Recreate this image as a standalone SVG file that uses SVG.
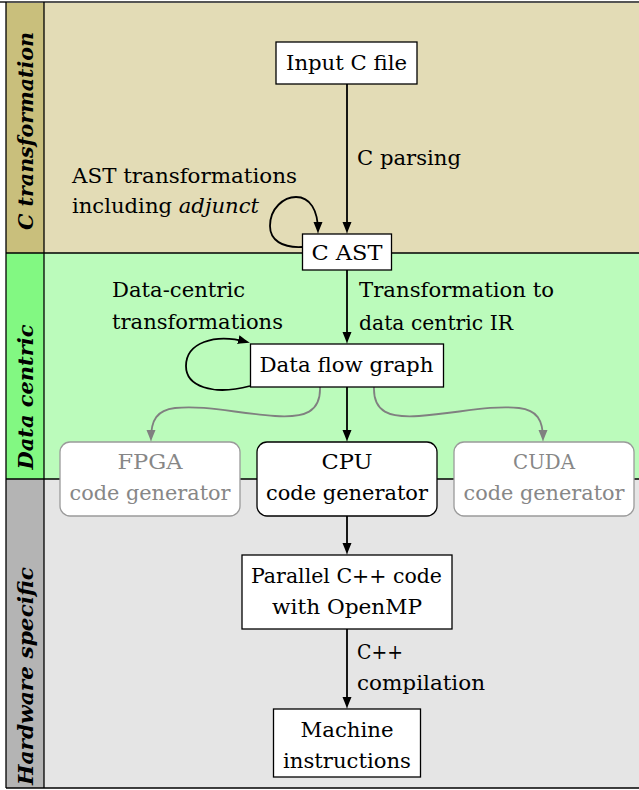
<svg xmlns="http://www.w3.org/2000/svg" width="639" height="790" viewBox="0 0 639 790">
<style>
.t{font-family:"DejaVu Serif","Liberation Serif",serif;font-size:20.5px;fill:#000}
.m{text-anchor:middle}
.g{fill:#878787}
.lab{font-weight:bold;font-style:italic;text-anchor:middle}
.box{fill:#fff;stroke:#000;stroke-width:1.3}
.rbox{fill:#fff;stroke:#000;stroke-width:1.3}
.gbox{fill:#fff;stroke:#9a9a9a;stroke-width:1.3}
.e{fill:none;stroke:#000;stroke-width:1.8}
.ge{fill:none;stroke:#808080;stroke-width:1.8}
</style>
<defs>
<marker id="ab" viewBox="0 0 12 10" refX="9" refY="5" markerWidth="12" markerHeight="10" markerUnits="userSpaceOnUse" orient="auto">
<path d="M12,5 C8,4 4,2 0,0.5 L0,9.5 C4,8 8,6 12,5 Z" fill="#000"/>
</marker>
<marker id="ag" viewBox="0 0 12 10" refX="9" refY="5" markerWidth="12" markerHeight="10" markerUnits="userSpaceOnUse" orient="auto">
<path d="M12,5 C8,4 4,2 0,0.5 L0,9.5 C4,8 8,6 12,5 Z" fill="#808080"/>
</marker>
</defs>
<g id="bands">
<rect x="6" y="2.5" width="640" height="250.5" fill="#e3dcb6"/>
<rect x="6" y="253" width="640" height="226" fill="#bbfbbb"/>
<rect x="6" y="479" width="640" height="309" fill="#e5e5e5"/>
<rect x="6" y="2.5" width="38" height="250.5" fill="#c9bf7c"/>
<rect x="6" y="253" width="38" height="226" fill="#82f882"/>
<rect x="6" y="479" width="38" height="309" fill="#b4b4b4"/>
<line x1="0" y1="2" x2="639" y2="2" stroke="#555" stroke-width="2"/>
<line x1="6" y1="253" x2="639" y2="253" stroke="#000" stroke-width="1.3"/>
<line x1="6" y1="479" x2="639" y2="479" stroke="#000" stroke-width="1.3"/>
<line x1="6" y1="788" x2="639" y2="788" stroke="#000" stroke-width="1.5"/>
<line x1="6" y1="2" x2="6" y2="788" stroke="#000" stroke-width="1.3"/>
<line x1="44" y1="2" x2="44" y2="788" stroke="#000" stroke-width="1.3"/>
<text class="t lab" transform="translate(33,131) rotate(-90)" textLength="198" lengthAdjust="spacingAndGlyphs">C transformation</text>
<text class="t lab" transform="translate(33,397) rotate(-90)" textLength="145" lengthAdjust="spacingAndGlyphs">Data centric</text>
<text class="t lab" transform="translate(33,676) rotate(-90)" textLength="218" lengthAdjust="spacingAndGlyphs">Hardware specific</text>
</g>
<g id="connectors">
<path class="e" d="M347,84 L347,231" marker-end="url(#ab)"/>
<path class="e" d="M302,247 C282,248 270,240 270,226 C270,208 284,197 296,197 C310,197 318,210 318,231" marker-end="url(#ab)"/>
<path class="e" d="M347,270 L347,341" marker-end="url(#ab)"/>
<path class="e" d="M250,386 C212,396 186,386 186,366 C186,343 214,333 247,342" marker-end="url(#ab)"/>
<path class="e" d="M347,387 L347,439" marker-end="url(#ab)"/>
<path class="ge" d="M320,387 C321,412 305,418 275,416 C235,413 205,405 175,408 C157,410 151,420 151,439" marker-end="url(#ag)"/>
<path class="ge" d="M374,387 C373,412 389,418 419,416 C459,413 489,405 519,408 C537,410 543,420 543,439" marker-end="url(#ag)"/>
<path class="e" d="M347,516 L347,552" marker-end="url(#ab)"/>
<path class="e" d="M347,629 L347,706" marker-end="url(#ab)"/>
<text class="t" x="357" y="165" textLength="104" lengthAdjust="spacingAndGlyphs">C parsing</text>
<text class="t" x="72" y="183" textLength="225" lengthAdjust="spacingAndGlyphs">AST transformations</text>
<text class="t" x="72" y="213" textLength="187" lengthAdjust="spacingAndGlyphs">including <tspan font-style="italic">adjunct</tspan></text>
<text class="t" x="112" y="297" textLength="133" lengthAdjust="spacingAndGlyphs">Data-centric</text>
<text class="t" x="112" y="329" textLength="171" lengthAdjust="spacingAndGlyphs">transformations</text>
<text class="t" x="359" y="297" textLength="195" lengthAdjust="spacingAndGlyphs">Transformation to</text>
<text class="t" x="359" y="330" textLength="154" lengthAdjust="spacingAndGlyphs">data centric IR</text>
<text class="t" x="357" y="659" textLength="46" lengthAdjust="spacingAndGlyphs">C++</text>
<text class="t" x="357" y="690" textLength="128" lengthAdjust="spacingAndGlyphs">compilation</text>
</g>
<g id="input">
<rect class="box" x="276" y="42" width="141" height="42"/>
<text class="t m" x="346.5" y="70" textLength="121" lengthAdjust="spacingAndGlyphs">Input C file</text>
</g>
<g id="cast">
<rect class="box" x="302.5" y="234" width="89" height="36"/>
<text class="t m" x="347" y="260" textLength="71" lengthAdjust="spacingAndGlyphs">C AST</text>
</g>
<g id="dfg">
<rect class="box" x="250.5" y="344" width="193" height="43"/>
<text class="t m" x="346.5" y="372" textLength="174" lengthAdjust="spacingAndGlyphs">Data flow graph</text>
</g>
<g id="fpga">
<rect class="gbox" x="60" y="442" width="180" height="74" rx="10"/>
<text class="t m g" x="150" y="469" textLength="65" lengthAdjust="spacingAndGlyphs">FPGA</text>
<text class="t m g" x="150" y="500" textLength="161" lengthAdjust="spacingAndGlyphs">code generator</text>
</g>
<g id="cpu">
<rect class="rbox" x="257" y="442" width="180" height="74" rx="10"/>
<text class="t m" x="347" y="469" textLength="51" lengthAdjust="spacingAndGlyphs">CPU</text>
<text class="t m" x="347" y="500" textLength="162" lengthAdjust="spacingAndGlyphs">code generator</text>
</g>
<g id="cuda">
<rect class="gbox" x="454" y="442" width="180" height="74" rx="10"/>
<text class="t m g" x="544" y="469" textLength="62" lengthAdjust="spacingAndGlyphs">CUDA</text>
<text class="t m g" x="544" y="500" textLength="161" lengthAdjust="spacingAndGlyphs">code generator</text>
</g>
<g id="parallel">
<rect class="box" x="242" y="555" width="210" height="74"/>
<text class="t m" x="346.5" y="583" textLength="191" lengthAdjust="spacingAndGlyphs">Parallel C++ code</text>
<text class="t m" x="347" y="614" textLength="150" lengthAdjust="spacingAndGlyphs">with OpenMP</text>
</g>
<g id="machine">
<rect class="box" x="273.5" y="709" width="147" height="68"/>
<text class="t m" x="347" y="737" textLength="93" lengthAdjust="spacingAndGlyphs">Machine</text>
<text class="t m" x="347" y="768" textLength="128" lengthAdjust="spacingAndGlyphs">instructions</text>
</g>
</svg>
